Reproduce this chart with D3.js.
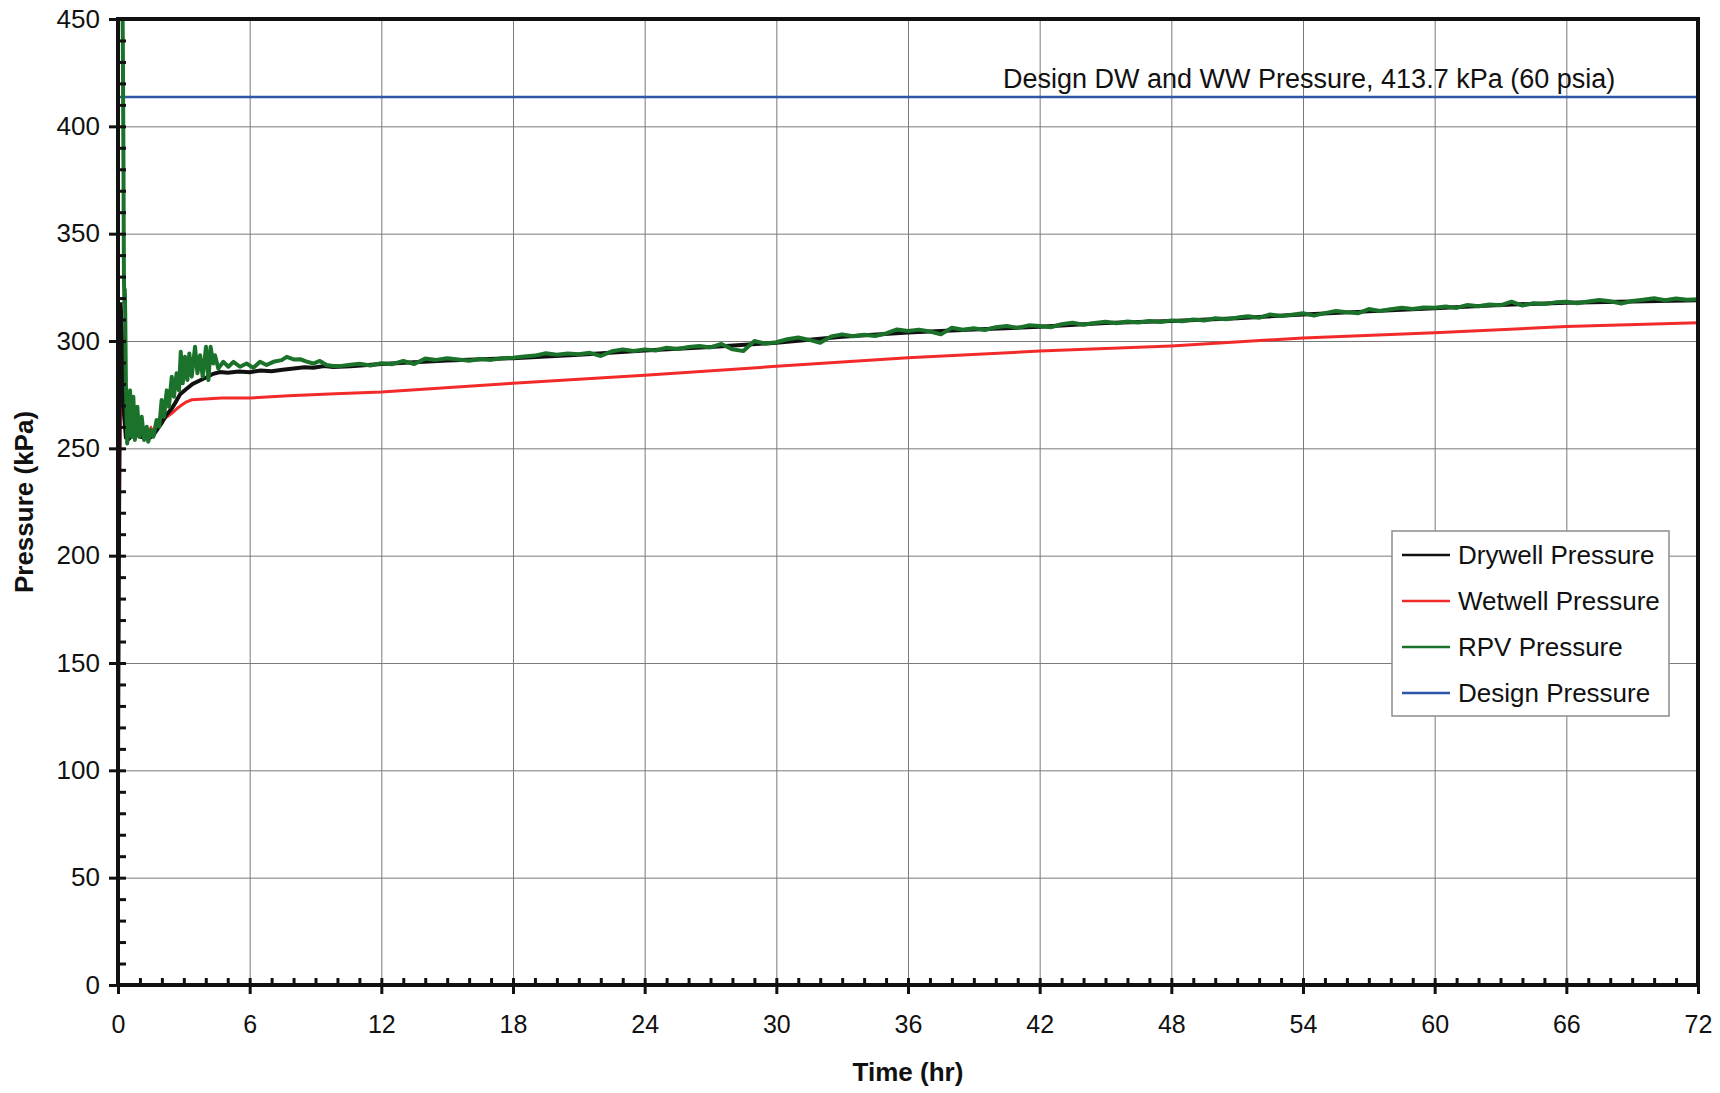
<!DOCTYPE html>
<html>
<head>
<meta charset="utf-8">
<script src="https://cdn.jsdelivr.net/npm/d3@7"></script>
<style>
body{margin:0;background:#fff}
text{font-family:"Liberation Sans",Arial,sans-serif;fill:#111}
</style>
</head>
<body>
<svg width="1720" height="1093"></svg>
<script>
// axis ticks
var timeTicks = [0,6,12,18,24,30,36,42,48,54,60,66,72]
var pressureTicks = [0,50,100,150,200,250,300,350,400,450]

var seriesNames = ["Drywell Pressure","Wetwell Pressure","RPV Pressure","Design Pressure"]
var seriesColors = ["#111111","#f22a2a","#1b722a","#2f55a8"]
var designNote = "Design DW and WW Pressure, 413.7 kPa (60 psia)"

// [time hr, pressure kPa]
var drywell = [[0,101],[0.04,200],[0.08,290],[0.12,318],[0.17,305],[0.22,283],[0.28,265],[0.36,255],[0.45,254],
 [0.6,255.5],[0.8,257],[1.0,255.5],[1.2,255],[1.4,254.5],[1.6,256],[1.8,259],[2.0,262],[2.2,265.5],[2.45,268.5],
 [2.6,271],[2.83,275.2],[3.1,277.5],[3.4,280],[3.7,281.5],[4.04,283.1],[4.34,284.7],[4.65,285.5],[5.0,285.2],
 [5.5,285.8],[6.0,285.5],[6.5,286.2],[7.0,285.9],[7.5,286.6],[8.0,287.2],[8.5,287.8],[8.9,287.5],[9.4,288.3],
 [9.8,287.9],[10.6,288.2],[12,289.3],[15,290.9],[18,292],[21,293.6],[24,295.6],[27,297.2],[30,299.2],[33,302],
 [36,304],[39,305.4],[42,306.6],[45,308.4],[48,309.3],[51,310.6],[54,312.4],[57,313.8],[60,315.2],[63,316.8],
 [66,317.8],[69,318.4],[72,319]]

var wetwell = [[0,101],[0.04,180],[0.08,240],[0.12,272],[0.15,276.4],[0.2,275],[0.27,270],[0.33,267.9],[0.4,262],
 [0.47,258.5],[0.6,257.5],[0.77,257],[0.95,256],[1.08,255.5],[1.2,256.5],[1.38,257.9],[1.5,259.5],[1.6,257.8],
 [1.68,259.4],[1.85,261],[1.99,262.4],[2.2,264.5],[2.45,266.3],[2.7,268.6],[2.9,270.2],[3.1,271.5],[3.36,272.6],
 [3.97,273.0],[4.73,273.4],[6,273.4],[7.77,274.5],[9.9,275.4],[12,276.2],[18,280.3],[24,284.0],[30,288.2],
 [36,292.2],[42,295.3],[48,297.7],[54,301.4],[60,303.9],[66,306.7],[72,308.5]]

var rpv = [[0.18,480],[0.22,440],[0.25,380],[0.27,330],[0.29,318],[0.31,324],[0.33,312],[0.36,280],[0.42,252.3],
 [0.55,277],[0.62,255.4],[0.70,274],[0.77,253.9],[0.88,269.4],[0.97,255.4],[1.08,264.7],[1.19,253.9],[1.31,260.1],
 [1.38,253.1],[1.49,258.5],[1.61,255.4],[1.76,263.2],[1.88,260.1],[1.99,272.5],[2.1,264.7],[2.22,277],[2.32,269.4],
 [2.45,283.4],[2.55,274],[2.67,285],[2.78,277],[2.86,295],[2.95,280.3],[3.05,292.7],[3.16,281.8],[3.25,294.2],
 [3.36,283.4],[3.51,297.3],[3.62,285],[3.74,293.4],[3.86,283.4],[4.01,297.3],[4.12,281.8],[4.22,297.3],[4.34,289.5],
 [4.42,293.4],[4.57,287.2],[4.8,290.3],[5.03,288],[5.26,290.3],[5.56,288],[5.86,289.5],[6.17,287.5],[6.47,290.3],
 [6.77,288.8],[7.08,290.3],[7.46,291.1],[7.69,292.6],[8.0,291.4],[8.3,291.5],[8.6,290.4],[8.9,289.5],[9.2,290.7],
 [9.5,288.8],[9.8,288.4],[10.1,288.3],[10.5,288.8],[11,289.4],[11.5,288.6],[12,289.6],[12.5,289.2],[13,290.7],
 [13.5,289.3],[14,291.8],[14.5,291.2],[15,292.0],[15.5,291.4],[16,290.8],[16.5,291.6],[17,291.2],[17.5,292.0],
 [18,292.2],[18.5,292.8],[19,293.2],[19.5,294.3],[20,293.6],[20.5,294.2],[21,293.8],[21.5,294.5],[22,293.0],
 [22.5,295.2],[23,296.1],[23.5,295.3],[24,296.1],[24.5,295.6],[25,296.9],[25.5,296.3],[26,297.2],[26.5,297.7],
 [27,297.0],[27.5,298.6],[28,296.1],[28.5,295.3],[29,300.0],[29.5,298.8],[30,299.4],[30.5,300.8],[31,301.6],
 [31.5,300.5],[32,299.2],[32.5,302.1],[33,303.1],[33.5,302.2],[34,302.9],[34.5,302.3],[35,303.5],[35.5,305.4],
 [36,304.7],[36.5,305.3],[37,304.4],[37.5,303.1],[38,306.2],[38.5,305.2],[39,305.9],[39.5,305.1],[40,306.4],
 [40.5,307.0],[41,306.1],[41.5,307.3],[42,307.0],[42.5,306.4],[43,307.8],[43.5,308.5],[44,307.6],[44.5,308.4],
 [45,309.0],[45.5,308.3],[46,309.1],[46.5,308.6],[47,309.3],[47.5,308.8],[48,309.6],[48.5,309.2],[49,310.0],
 [49.5,309.5],[50,310.6],[50.5,310.1],[51,310.9],[51.5,311.5],[52,310.8],[52.5,312.4],[53,311.6],[53.5,312.2],
 [54,312.9],[54.5,311.8],[55,313.0],[55.5,314.0],[56,313.4],[56.5,312.9],[57,314.9],[57.5,314.0],[58,314.8],
 [58.5,315.5],[59,314.9],[59.5,315.6],[60,315.5],[60.5,316.1],[61,315.4],[61.5,316.8],[62,316.2],[62.5,317.0],
 [63,316.6],[63.5,318.3],[64,316.5],[64.5,317.6],[65,317.2],[65.5,318.0],[66,318.3],[66.5,317.6],[67,318.4],
 [67.5,319.1],[68,318.5],[68.5,317.5],[69,318.6],[69.5,319.2],[70,319.9],[70.5,319.0],[71,319.8],[71.5,319.2],
 [72,319.4]]

var design = [[0,413.7],[72,413.7]]

var svg = d3.select("svg")

var x = d3.scaleLinear().domain([0,72]).range([118,1698])
var y = d3.scaleLinear().domain([0,450]).range([985,19])

// grid
svg.append("g")
  .attr("transform","translate(0,985)")
  .call(d3.axisBottom(x).tickValues(timeTicks).tickSize(-(985-19)).tickFormat(""))
  .call(g=>g.select(".domain").remove())
  .selectAll("line").attr("stroke","#7a7a7a").attr("stroke-width",1)
svg.append("g")
  .attr("transform","translate(118,0)")
  .call(d3.axisLeft(y).tickValues(pressureTicks).tickSize(-(1698-118)).tickFormat(""))
  .call(g=>g.select(".domain").remove())
  .selectAll("line").attr("stroke","#7a7a7a").attr("stroke-width",1)

svg.append("clipPath").attr("id","plot")
  .append("rect").attr("x",118).attr("y",19).attr("width",1698-118).attr("height",985-19)

var line = d3.line().x(d=>x(d[0])).y(d=>y(d[1]))
var plot = svg.append("g").attr("clip-path","url(#plot)")

plot.append("path").datum(design).attr("d",line)
  .attr("fill","none").attr("stroke",seriesColors[3]).attr("stroke-width",2.5)
plot.append("path").datum(wetwell).attr("d",line)
  .attr("fill","none").attr("stroke",seriesColors[1]).attr("stroke-width",3)
plot.append("path").datum(drywell).attr("d",line)
  .attr("fill","none").attr("stroke",seriesColors[0]).attr("stroke-width",4)
plot.append("path").datum(rpv).attr("d",line)
  .attr("fill","none").attr("stroke",seriesColors[2]).attr("stroke-width",4)
  .attr("stroke-linejoin","round")

// frame
svg.append("rect").attr("x",118).attr("y",19).attr("width",1698-118).attr("height",985-19)
  .attr("fill","none").attr("stroke","#111").attr("stroke-width",4)

// axes
var yAxis = svg.append("g").attr("transform","translate(118,0)")
  .call(d3.axisLeft(y).tickValues(pressureTicks).tickSize(9).tickPadding(9))
yAxis.select(".domain").remove()
yAxis.selectAll("line").attr("stroke","#111").attr("stroke-width",3)
yAxis.selectAll("text").style("font-size","26px").attr("fill","#111")

svg.append("g").attr("transform","translate(118,0)")
  .call(d3.axisRight(y).ticks(45).tickSize(8).tickFormat(""))
  .call(g=>g.select(".domain").remove())
  .selectAll("line").attr("stroke","#111").attr("stroke-width",3)

var xAxis = svg.append("g").attr("transform","translate(0,985)")
  .call(d3.axisBottom(x).tickValues(timeTicks).tickSize(9).tickPadding(21))
xAxis.select(".domain").remove()
xAxis.selectAll("line").attr("stroke","#111").attr("stroke-width",3)
xAxis.selectAll("text").style("font-size","25px").attr("fill","#111")

svg.append("g").attr("transform","translate(0,985)")
  .call(d3.axisTop(x).ticks(72).tickSize(7).tickFormat(""))
  .call(g=>g.select(".domain").remove())
  .selectAll("line").attr("stroke","#111").attr("stroke-width",3)

// titles
svg.append("text").text("Time (hr)")
  .attr("x",(x(0)+x(72))/2).attr("y",1081)
  .attr("text-anchor","middle").style("font-size","26px").style("font-weight","bold")
svg.append("text").text("Pressure (kPa)")
  .attr("transform","translate(33,502) rotate(-90)")
  .attr("text-anchor","middle").style("font-size","26px").style("font-weight","bold")

svg.append("text").text(designNote)
  .attr("x",1003).attr("y",88).style("font-size","27px")

// legend
var legend = svg.append("g").attr("transform","translate(1392,531)")
legend.append("rect").attr("width",277).attr("height",185)
  .attr("fill","#fff").attr("stroke","#8c8c8c").attr("stroke-width",1.5)
var rows = legend.selectAll("g.row").data(seriesNames).enter().append("g")
  .attr("transform",(d,i)=>"translate(0,"+(24+i*46)+")")
rows.append("line").attr("x1",10).attr("x2",58)
  .attr("stroke",(d,i)=>seriesColors[i]).attr("stroke-width",2.5)
rows.append("text").text(d=>d).attr("x",66).attr("dy","0.35em").style("font-size","26px")
</script>
</body>
</html>
